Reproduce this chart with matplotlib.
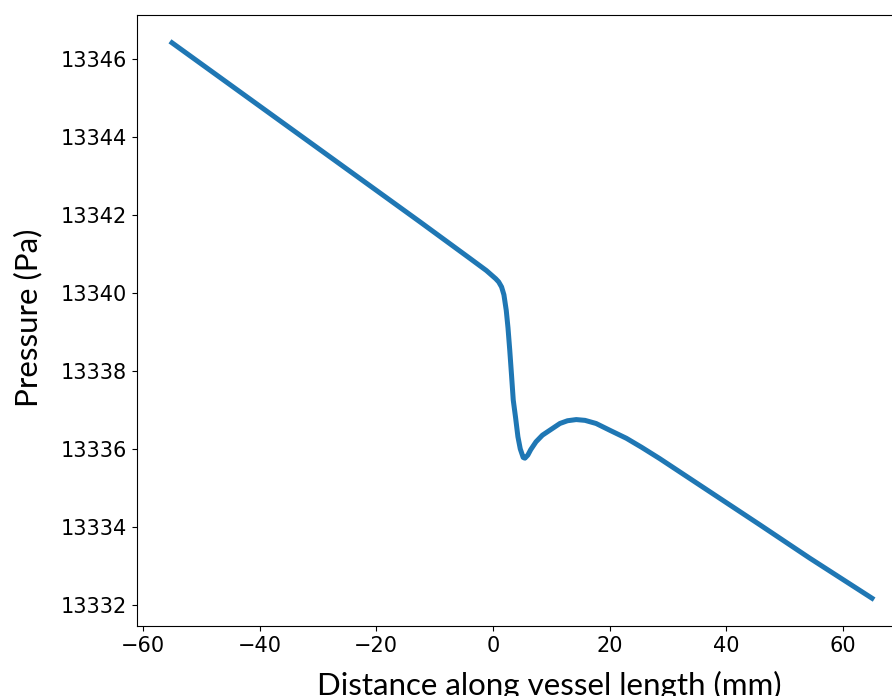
import numpy as np
import matplotlib.pyplot as plt

# distance along vessel (mm) and pressure (Pa)
distance = [-55.0, -40.0, -25.0, -12.5, -4.0, -1.1, 0.5, 1.0, 1.5, 1.9,
            2.3, 2.6, 2.9, 3.2, 3.5, 3.9, 4.3, 4.7, 5.2, 5.5,
            6.0, 6.5, 7.4, 8.5, 9.8, 11.5, 12.8, 14.3, 15.8, 17.7,
            20.0, 22.9, 25.5, 28.6, 37.2, 45.7, 54.3, 65.0]
pressure = [13346.41, 13344.79, 13343.17, 13341.82, 13340.89, 13340.57,
            13340.36, 13340.28, 13340.15, 13339.95, 13339.55, 13339.10,
            13338.53, 13337.90, 13337.25, 13336.80, 13336.31, 13336.00,
            13335.78, 13335.76, 13335.84, 13335.98, 13336.18, 13336.35,
            13336.48, 13336.65, 13336.72, 13336.75, 13336.73, 13336.65,
            13336.48, 13336.27, 13336.04, 13335.75, 13334.90, 13334.06,
            13333.20, 13332.17]

fig = plt.figure(figsize=(8.92, 6.96), dpi=100)
ax = fig.add_axes([137 / 892, 70 / 696, 770 / 892, 611 / 696])

ax.plot(distance, pressure, color='#1f77b4', lw=3.6)

ax.set_xticks([-60, -40, -20, 0, 20, 40, 60])
ax.set_yticks(np.arange(13332, 13347, 2))
ax.tick_params(labelsize=15)
ax.yaxis.get_major_formatter().set_useOffset(False)

ax.set_xlabel('Distance along vessel length (mm)', fontsize=22.5, family='Lato')
ax.set_ylabel('Pressure (Pa)', fontsize=22.5, family='Lato')
ax.xaxis.set_label_coords(0.535, -0.073)
ax.yaxis.set_label_coords(-0.123, 0.505)

fig.savefig('out.png', dpi=100)
